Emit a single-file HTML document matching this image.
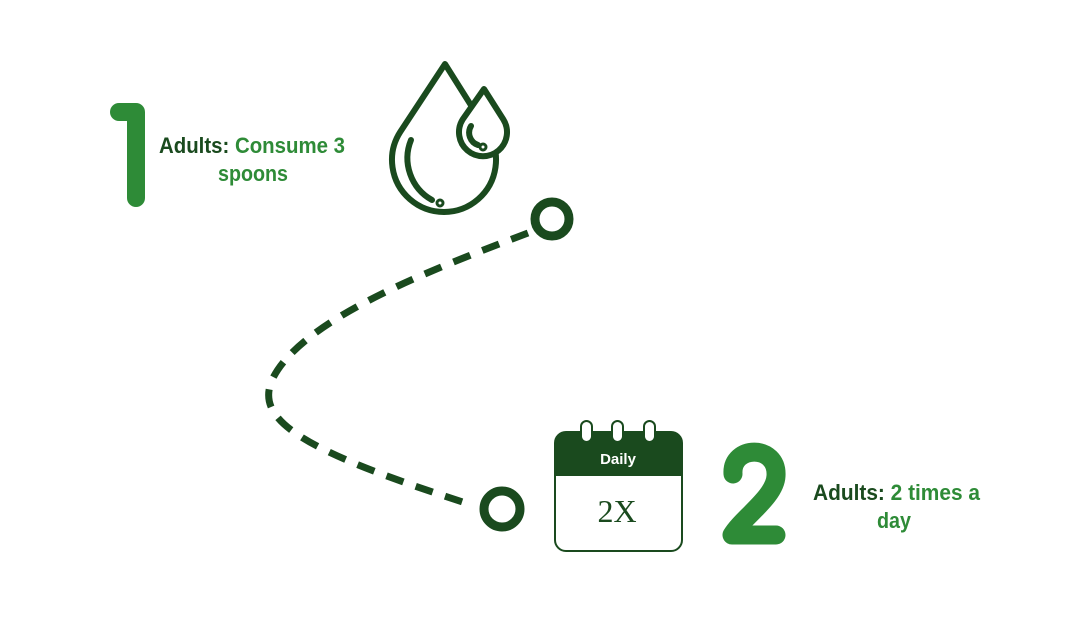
<!DOCTYPE html>
<html><head><style>
html,body{margin:0;padding:0;background:#fff;width:1082px;height:640px;overflow:hidden}
</style></head><body>
<svg width="1082" height="640" style="position:absolute;left:0;top:0">
<g fill="none" stroke="#1a4a1e" stroke-width="6" stroke-linecap="round" stroke-linejoin="round">
<path d="M445 64 L400.3 131.8 A52 52 0 1 0 487.7 131.8 Z" fill="#fff"/>
<path d="M411 140 A48 48 0 0 0 432 200"/>
<circle cx="440" cy="203" r="1.5"/>
<path d="M484 89 L462.7 119.4 A24 24 0 1 0 503.3 119.4 Z" fill="#fff"/>
<path d="M471 126 A13 13 0 0 0 478 145"/>
<circle cx="483" cy="147" r="1.5"/>
</g>
<circle cx="552" cy="219" r="17" fill="none" stroke="#1a4a1e" stroke-width="9"/>
<circle cx="502" cy="509" r="18" fill="none" stroke="#1a4a1e" stroke-width="9"/>
<path d="M528 233 C430 270 300 320 272 380 C255 420 300 450 472 505" fill="none" stroke="#1a4a1e" stroke-width="7" stroke-dasharray="18 13"/>
<rect x="555" y="432" width="127" height="119" rx="11" fill="#fff" stroke="#1a4a1e" stroke-width="2"/>
<path d="M555 476 V443 A11 11 0 0 1 566 432 H671 A11 11 0 0 1 682 443 V476 Z" fill="#1a4a1e"/>
<g fill="#fff" stroke="#1a4a1e" stroke-width="2">
<rect x="581" y="421" width="11" height="21" rx="5.5"/>
<rect x="612" y="421" width="11" height="21" rx="5.5"/>
<rect x="644" y="421" width="11" height="21" rx="5.5"/>
</g>
<text x="618" y="464" text-anchor="middle" font-family="Liberation Sans,sans-serif" font-weight="bold" font-size="15" fill="#fff">Daily</text>
<text x="617" y="522" text-anchor="middle" font-family="Liberation Serif,serif" font-size="32" fill="#1a4a1e">2X</text>
<g fill="none" stroke="#2e8b37" stroke-width="18" stroke-linecap="round" stroke-linejoin="round">
<path d="M119 112 L136 112 L136 198"/>
<path d="M733 474 C731 445 778 444 776 476 C775 497 742 518 732 535 L776 535" stroke-width="19"/>
</g>
<g font-family="Liberation Sans,sans-serif" font-weight="bold" font-size="22" fill="#2e8b37">
<text x="159" y="153" textLength="186" lengthAdjust="spacingAndGlyphs"><tspan fill="#1a4a1e">Adults:</tspan> Consume 3</text>
<text x="218" y="181" textLength="70" lengthAdjust="spacingAndGlyphs">spoons</text>
<text x="813" y="500" textLength="167" lengthAdjust="spacingAndGlyphs"><tspan fill="#1a4a1e">Adults:</tspan> 2 times a</text>
<text x="877" y="528" textLength="34" lengthAdjust="spacingAndGlyphs">day</text>
</g>
</svg>
</body></html>
